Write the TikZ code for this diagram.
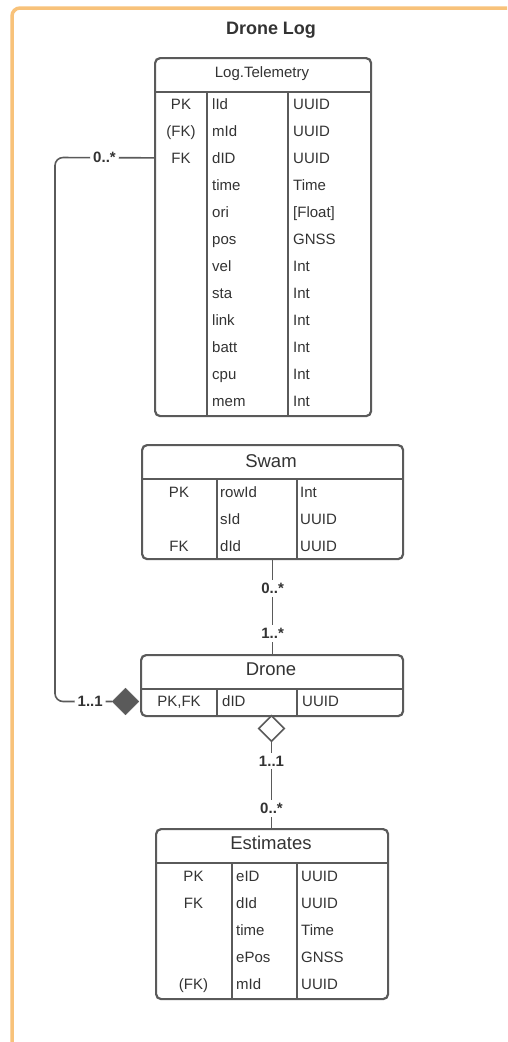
\documentclass[tikz,border=0pt]{standalone}
\usepackage{fontspec}
\setmainfont{Liberation Sans}
\usepackage{xcolor}
\usepackage{tikz}
\usetikzlibrary{arrows.meta, positioning, shapes.geometric}

\definecolor{inkgray}{HTML}{333333}
\definecolor{linegray}{HTML}{5A5A5A}
\definecolor{frameorange}{HTML}{F8C27A}

\begin{document}
\begin{tikzpicture}[x=1pt, y=-1pt,
  frame/.style={draw=frameorange, line width=3.5pt, rounded corners=8pt},
  tablebox/.style={draw=linegray, line width=2.2pt, rounded corners=5pt, fill=white, inner sep=0pt, anchor=north west},
  divline/.style={draw=linegray, line width=2.2pt},
  headtext/.style={anchor=base, inner sep=0pt, text=inkgray, font=\fontsize{18.5}{20}\selectfont},
  keytext/.style={anchor=base, inner sep=0pt, text=inkgray, font=\fontsize{15}{17}\selectfont},
  fieldtext/.style={anchor=base west, inner sep=0pt, text=inkgray, font=\fontsize{15}{17}\selectfont},
  cardlbl/.style={fill=white, inner sep=3pt, text=inkgray, font=\bfseries\fontsize{15}{17}\selectfont},
  relline/.style={draw=linegray, line width=1.6pt},
  fulldia/.style={diamond, draw=linegray, fill=linegray, inner sep=0pt, minimum width=27pt, minimum height=27pt},
  opendia/.style={diamond, draw=linegray, fill=white, line width=1.6pt, inner sep=0pt, minimum width=26pt, minimum height=26pt}
]
\useasboundingbox (0,0) rectangle (507,1042);
\clip (0,0) rectangle (507,1042);
\draw[frame] (12,8) rectangle (540,1080);

\node[text=inkgray, font=\bfseries\fontsize{18}{20}\selectfont] (title) at (271,30) {Drone Log};

% Log.Telemetry
\node[tablebox, minimum width=216pt, minimum height=358pt] (tele) at (154,57) {};
\node[headtext, font=\fontsize{15}{17}\selectfont] (tele-h) at (262,77.5) {Log.Telemetry};
\draw[divline] (154,92) -- (370,92);
\draw[divline] (207,92) -- (207,415);
\draw[divline] (288,92) -- (288,415);
\foreach \k/\n/\t [count=\i from 0] in {PK/lId/UUID, {(FK)}/mId/UUID, FK/dID/UUID, {}/time/Time, {}/ori/{[Float]}, {}/pos/GNSS, {}/vel/Int, {}/sta/Int, {}/link/Int, {}/batt/Int, {}/cpu/Int, {}/mem/Int} {
  \node[keytext] (tele-k\i) at (181,109+27*\i) {\k};
  \node[fieldtext] (tele-n\i) at (212,109+27*\i) {\n};
  \node[fieldtext] (tele-t\i) at (293,109+27*\i) {\t};
}

% Swam
\node[tablebox, minimum width=261pt, minimum height=114pt] (swam) at (141,444) {};
\node[headtext] (swam-h) at (271,467.5) {Swam};
\draw[divline] (141,479) -- (402,479);
\draw[divline] (217,479) -- (217,558);
\draw[divline] (297,479) -- (297,558);
\foreach \k/\n/\t [count=\i from 0] in {PK/rowId/Int, {}/sId/UUID, FK/dId/UUID} {
  \node[keytext] (swam-k\i) at (179,497+27*\i) {\k};
  \node[fieldtext] (swam-n\i) at (220,497+27*\i) {\n};
  \node[fieldtext] (swam-t\i) at (300,497+27*\i) {\t};
}

% Drone
\node[tablebox, minimum width=262pt, minimum height=61pt] (drone) at (140,654) {};
\node[headtext] (drone-h) at (271,675.5) {Drone};
\draw[divline] (140,689) -- (402,689);
\draw[divline] (217,689) -- (217,715);
\draw[divline] (297,689) -- (297,715);
\node[keytext] (drone-k0) at (179,706) {PK,FK};
\node[fieldtext] (drone-n0) at (222,706) {dID};
\node[fieldtext] (drone-t0) at (302,706) {UUID};

% Estimates
\node[tablebox, minimum width=232pt, minimum height=170pt] (est) at (155,828) {};
\node[headtext] (est-h) at (271,849.5) {Estimates};
\draw[divline] (155,863) -- (387,863);
\draw[divline] (232,863) -- (232,998);
\draw[divline] (297,863) -- (297,998);
\foreach \k/\n/\t [count=\i from 0] in {PK/eID/UUID, FK/dId/UUID, {}/time/Time, {}/ePos/GNSS, {(FK)}/mId/UUID} {
  \node[keytext] (est-k\i) at (193.5,881+27*\i) {\k};
  \node[fieldtext] (est-n\i) at (236,881+27*\i) {\n};
  \node[fieldtext] (est-t\i) at (301,881+27*\i) {\t};
}

% relations
\node[fulldia] (fdia) at (125.5,701.5) {};
\node[opendia] (odia) at (271.5,728.5) {};

\draw[relline, rounded corners=8pt] (fdia.west) -- node[cardlbl, pos=.38] {1..1} (55,701.5) -- (55,157.5) -- node[cardlbl, pos=.5] {0..*} (tele.west |- tele-k2);
\draw[relline] (swam.south) -- node[cardlbl, pos=.30] {0..*} node[cardlbl, pos=.78] {1..*} (swam.south |- drone.north);
\draw[relline] (odia.south) -- node[cardlbl, pos=.22] {1..1} node[cardlbl, pos=.77] {0..*} (odia.south |- est.north);
\end{tikzpicture}
\end{document}
